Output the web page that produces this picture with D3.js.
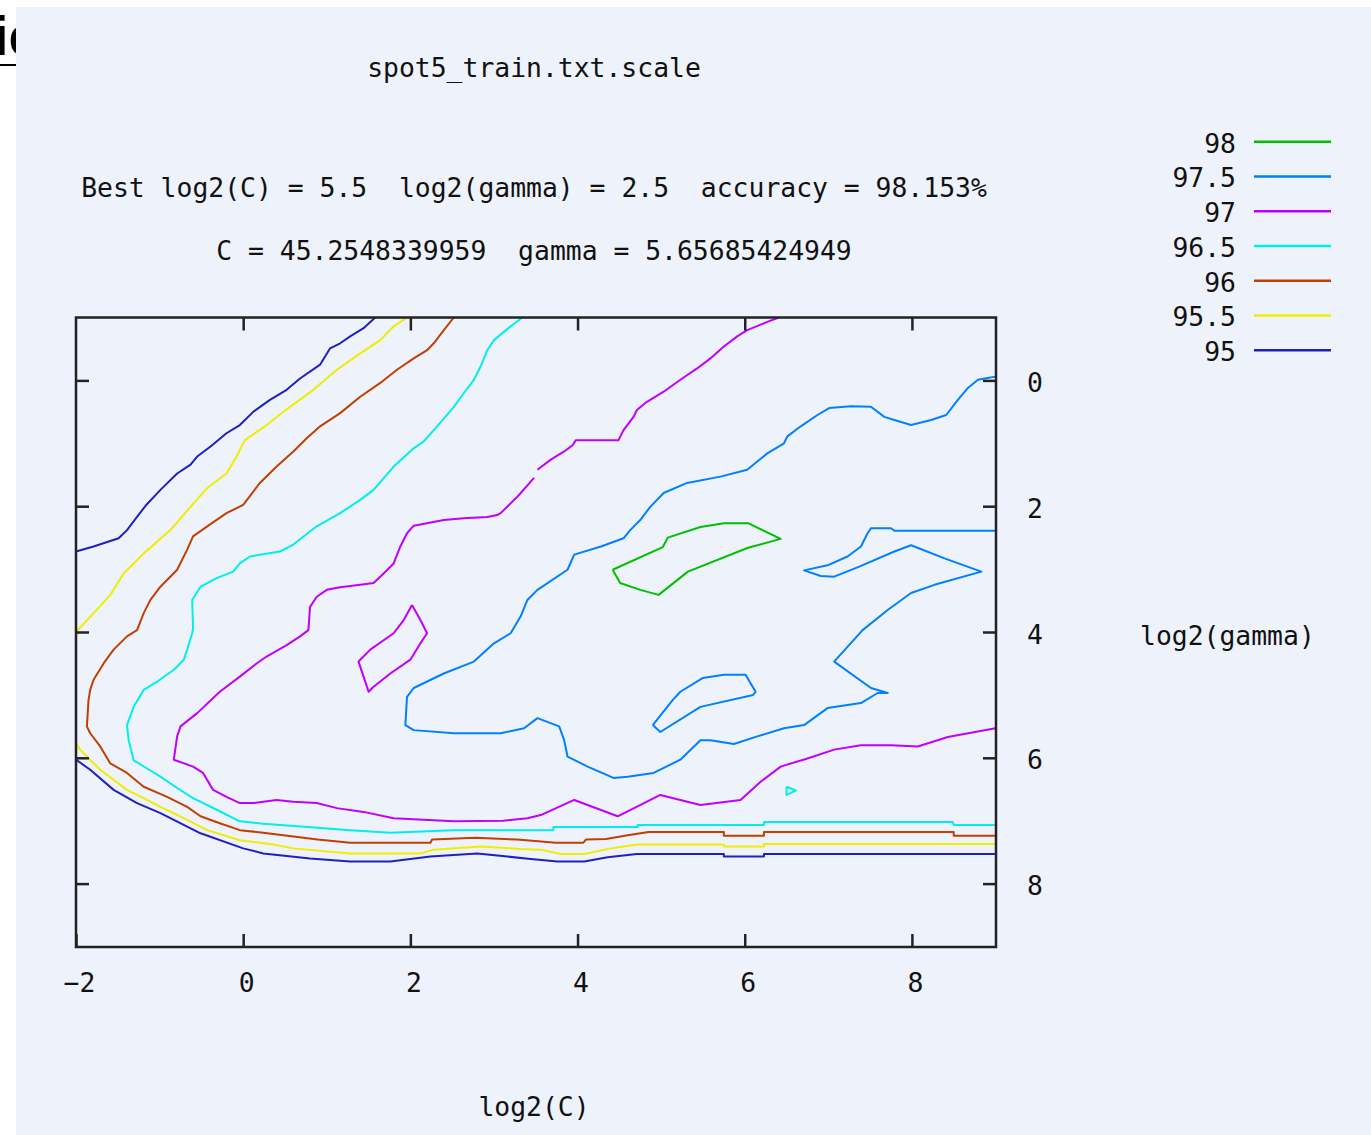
<!DOCTYPE html>
<meta charset="utf-8">
<html lang="en-us">
  <head>
    <script type="text/javascript" src="https://cdn.jsdelivr.net/npm/d3@7"></script>
    <style>
      body { margin: 0; background: #fff; }
      text { font-family: "DejaVu Sans Mono", monospace; font-size: 26.4px; fill: #111; white-space: pre; }
    </style>
  </head>
  <body>
  <div id="chart"></div>
  <script>
    // grid search contours, [log2(C), log2(gamma)] points
    const levels = ['98', '97.5', '97', '96.5', '96', '95.5', '95']
    const colors = ['#00c000', '#0080ff', '#c000ff', '#00eeee', '#c04000', '#eeee00', '#2020c0']
    const xTicks = [-2, 0, 2, 4, 6, 8]
    const yTicks = [0, 2, 4, 6, 8]

    const contour98 = [
      [[4.42,3.01],[4.51,3.22],[4.75,3.33],[4.97,3.41],[5.32,3.04],[6.04,2.66],[6.43,2.52],[6.04,2.27],[5.75,2.27],[5.47,2.33],[5.08,2.50],[5.02,2.65],[4.42,3.01]]
    ]
    const contour975 = [
      [[9,2.39],[7.79,2.39],[7.75,2.35],[7.51,2.35],[7.47,2.43],[7.39,2.64],[7.23,2.80],[6.99,2.94],[6.71,3.02],[6.91,3.11],[7.07,3.12],[7.37,2.96],[7.79,2.72],[7.99,2.62],[8.39,2.83],[8.83,3.04],[8.27,3.25],[7.99,3.38],[7.71,3.65],[7.41,3.97],[7.07,4.47],[7.51,4.89],[7.71,4.97],[7.59,4.97],[7.39,5.13],[6.99,5.21],[6.71,5.48],[6.47,5.53],[6.15,5.66],[5.87,5.78],[5.59,5.72],[5.47,5.72],[5.23,6.03],[4.91,6.24],[4.60,6.30],[4.43,6.32],[4.12,6.14],[3.88,5.98],[3.84,5.72],[3.78,5.50],[3.52,5.37],[3.36,5.53],[3.08,5.61],[2.52,5.61],[2.04,5.56],[1.94,5.48],[1.96,5.03],[2.04,4.89],[2.40,4.66],[2.76,4.47],[3.00,4.18],[3.20,4.02],[3.32,3.75],[3.40,3.49],[3.52,3.33],[3.88,3.01],[3.96,2.77],[4.28,2.64],[4.55,2.51],[4.63,2.38],[4.75,2.22],[4.87,2.01],[5.03,1.79],[5.31,1.63],[5.71,1.53],[6.03,1.42],[6.27,1.16],[6.47,1.00],[6.51,0.89],[6.67,0.73],[6.87,0.55],[7.01,0.44],[7.27,0.41],[7.51,0.42],[7.67,0.58],[7.79,0.63],[7.99,0.71],[8.23,0.63],[8.41,0.55],[8.55,0.31],[8.67,0.12],[8.79,-0.01],[8.87,-0.03],[9,-0.06]],
      [[4.90,5.48],[4.99,5.59],[5.47,5.19],[6.10,5.00],[6.13,4.95],[6.01,4.68],[5.75,4.68],[5.50,4.73],[5.23,4.95],[5.14,5.08],[4.90,5.48]]
    ]
    const contour97 = [
      [[6.41,-1],[6.27,-0.93],[6.03,-0.80],[5.91,-0.70],[5.75,-0.54],[5.59,-0.35],[5.43,-0.19],[5.23,-0.01],[5.03,0.18],[4.83,0.34],[4.71,0.47],[4.67,0.58],[4.55,0.79],[4.49,0.95],[3.98,0.95],[3.94,1.03],[3.84,1.13],[3.68,1.26],[3.52,1.42]],
      [[3.48,1.55],[3.28,1.85],[3.08,2.11],[3.04,2.14],[2.92,2.17],[2.64,2.19],[2.40,2.22],[2.04,2.31],[1.96,2.43],[1.88,2.64],[1.80,2.91],[1.68,3.07],[1.56,3.22],[1.40,3.25],[1.16,3.29],[1.00,3.33],[0.88,3.44],[0.80,3.60],[0.78,3.97],[0.68,4.07],[0.52,4.21],[0.28,4.39],[0.16,4.50],[-0.04,4.71],[-0.28,4.95],[-0.55,5.29],[-0.75,5.50],[-0.79,5.66],[-0.83,6.03],[-0.60,6.14],[-0.48,6.24],[-0.36,6.51],[-0.20,6.62],[-0.04,6.72],[0.12,6.72],[0.40,6.67],[0.60,6.70],[0.88,6.72],[1.12,6.80],[1.44,6.86],[1.80,6.96],[2.52,7.01],[3.11,7.00],[3.40,6.96],[3.56,6.91],[3.96,6.67],[4.48,6.93],[4.99,6.59],[5.47,6.75],[5.95,6.67],[6.19,6.38],[6.43,6.14],[6.75,6.01],[7.07,5.87],[7.39,5.80],[7.75,5.80],[8.07,5.82],[8.43,5.67],[9,5.53]],
      [[2.02,3.57],[2.12,3.81],[2.20,4.02],[2.12,4.18],[2.00,4.44],[1.76,4.66],[1.56,4.87],[1.50,4.95],[1.44,4.71],[1.38,4.47],[1.52,4.28],[1.80,4.02],[1.92,3.81],[2.02,3.57]]
    ]
    const contour965 = [
      [[3.34,-1],[3.20,-0.86],[3.00,-0.64],[2.92,-0.48],[2.84,-0.22],[2.76,-0.01],[2.64,0.20],[2.52,0.42],[2.32,0.73],[2.16,0.97],[2.04,1.08],[1.80,1.37],[1.56,1.74],[1.40,1.90],[1.16,2.11],[0.88,2.32],[0.60,2.61],[0.44,2.72],[0.08,2.80],[-0.04,2.91],[-0.12,3.04],[-0.31,3.14],[-0.51,3.28],[-0.61,3.49],[-0.60,3.94],[-0.61,4.02],[-0.67,4.28],[-0.71,4.44],[-0.83,4.60],[-1.03,4.79],[-1.19,4.92],[-1.31,5.19],[-1.39,5.48],[-1.37,5.72],[-1.31,6.04],[-1.15,6.17],[-0.99,6.30],[-0.79,6.48],[-0.60,6.64],[-0.31,6.83],[-0.04,7.01],[0.24,7.05],[0.77,7.10],[1.28,7.15],[1.76,7.19],[2.51,7.15],[3.71,7.15],[3.71,7.10],[4.72,7.10],[4.72,7.07],[6.23,7.07],[6.23,7.02],[8.49,7.02],[8.50,7.07],[9,7.07]],
      [[6.50,6.46],[6.61,6.52],[6.50,6.59],[6.50,6.46]]
    ]
    const contour96 = [
      [[2.52,-1],[2.40,-0.80],[2.28,-0.59],[2.20,-0.48],[2.04,-0.35],[1.84,-0.17],[1.64,0.04],[1.40,0.26],[1.16,0.52],[0.92,0.73],[0.76,0.92],[0.60,1.13],[0.40,1.37],[0.20,1.63],[0.00,1.98],[-0.20,2.11],[-0.43,2.32],[-0.60,2.48],[-0.67,2.69],[-0.79,3.01],[-0.99,3.28],[-1.11,3.49],[-1.19,3.70],[-1.27,3.97],[-1.39,4.07],[-1.55,4.28],[-1.67,4.50],[-1.79,4.76],[-1.83,4.92],[-1.85,5.08],[-1.87,5.50],[-1.83,5.61],[-1.71,5.82],[-1.59,6.09],[-1.39,6.24],[-1.19,6.46],[-0.91,6.62],[-0.67,6.78],[-0.51,6.93],[-0.28,7.04],[-0.04,7.15],[0.24,7.19],[0.65,7.26],[0.89,7.30],[1.28,7.35],[2.24,7.35],[2.26,7.30],[2.78,7.27],[3.28,7.30],[3.74,7.35],[4.07,7.35],[4.10,7.30],[4.34,7.29],[4.60,7.23],[4.85,7.18],[5.75,7.18],[5.75,7.24],[6.23,7.24],[6.23,7.18],[8.50,7.18],[8.50,7.24],[9,7.24]]
    ]
    const contour955 = [
      [[-2,4.00],[-1.83,3.76],[-1.59,3.41],[-1.43,3.07],[-1.19,2.75],[-0.87,2.38],[-0.63,2.01],[-0.43,1.71],[-0.20,1.48],[-0.08,1.21],[0.02,0.95],[0.28,0.71],[0.56,0.42],[0.84,0.15],[1.12,-0.17],[1.40,-0.43],[1.64,-0.64],[1.80,-0.86],[1.96,-1]],
      [[-2,5.77],[-1.95,5.87],[-1.87,5.98],[-1.71,6.19],[-1.39,6.51],[-1.19,6.64],[-0.99,6.78],[-0.71,6.96],[-0.43,7.15],[-0.04,7.31],[0.36,7.38],[0.60,7.44],[1.28,7.52],[2.12,7.52],[2.28,7.46],[2.84,7.41],[3.32,7.45],[3.56,7.46],[3.80,7.53],[4.08,7.53],[4.40,7.44],[4.71,7.38],[5.75,7.38],[5.75,7.41],[6.23,7.41],[6.23,7.37],[9,7.37]]
    ]
    const contour95 = [
      [[-2,2.72],[-1.79,2.64],[-1.49,2.51],[-1.39,2.38],[-1.27,2.17],[-1.16,1.98],[-0.99,1.74],[-0.79,1.48],[-0.63,1.34],[-0.55,1.21],[-0.39,1.05],[-0.20,0.84],[-0.04,0.71],[0.12,0.50],[0.32,0.31],[0.52,0.15],[0.68,-0.03],[0.92,-0.25],[1.04,-0.51],[1.16,-0.59],[1.28,-0.70],[1.44,-0.83],[1.58,-1]],
      [[-2,6.03],[-1.83,6.19],[-1.55,6.51],[-1.27,6.72],[-0.99,6.88],[-0.51,7.20],[0.00,7.44],[0.24,7.52],[0.80,7.60],[1.28,7.65],[1.76,7.65],[2.24,7.57],[2.80,7.52],[3.16,7.57],[3.44,7.61],[3.76,7.65],[4.08,7.65],[4.36,7.58],[4.71,7.53],[5.75,7.53],[5.75,7.57],[6.23,7.57],[6.23,7.53],[9,7.53]]
    ]

    const contours = [contour98, contour975, contour97, contour965, contour96, contour955, contour95]

    const titleLines = [
      'spot5_train.txt.scale',
      'Best log2(C) = 5.5  log2(gamma) = 2.5  accuracy = 98.153%',
      'C = 45.2548339959  gamma = 5.65685424949'
    ]

    const svg = d3.select('#chart').append('svg')
      .attr('width', 1371).attr('height', 1135)

    // the page heading peeking out behind the image
    svg.append('text').attr('x', -7).attr('y', 55)
      .style('font-family', '"Liberation Sans", Arial, sans-serif')
      .style('font-weight', 'bold').style('font-size', '56px').style('fill', '#000')
      .text('ie')
    svg.append('line').attr('x1', 0).attr('x2', 16).attr('y1', 65).attr('y2', 65)
      .attr('stroke', '#000').attr('stroke-width', 2)

    svg.append('rect').attr('x', 16).attr('y', 7)
      .attr('width', 1355).attr('height', 1128).attr('fill', '#eef2fb')

    const x = d3.scaleLinear().domain([-2, 9]).range([76, 995.5])
    const y = d3.scaleLinear().domain([-1, 9]).range([317.5, 946.5])

    svg.selectAll('.title').data(titleLines).enter()
      .append('text').attr('class', 'title')
      .attr('xml:space', 'preserve')
      .attr('text-anchor', 'middle').attr('x', 534)
      .attr('y', (d, i) => [77, 197, 260][i])
      .text(d => d)

    // contour lines
    const line = d3.line().x(d => x(d[0])).y(d => y(d[1]))
    contours.forEach(function(segs, i) {
      svg.append('g').selectAll('path').data(segs).enter()
        .append('path').attr('d', line)
        .attr('fill', 'none').attr('stroke', colors[i])
        .attr('stroke-width', 2).attr('stroke-linejoin', 'round')
    })

    // axes, ticks pointing into the box
    const tickStyle = g => {
      g.select('.domain').remove()
      g.selectAll('.tick line').attr('stroke', '#222').attr('stroke-width', 2.5)
    }
    svg.append('g').attr('transform', 'translate(0,947)')
      .call(d3.axisBottom(x).tickValues(xTicks).tickSizeInner(-13).tickSizeOuter(0).tickPadding(26.5))
      .call(tickStyle)
      .call(g => g.selectAll('text').attr('dx', 3).style('font-size', '26.4px')
        .style('font-family', '"DejaVu Sans Mono", monospace').attr('fill', '#111'))
    svg.append('g').attr('transform', 'translate(0,317.5)')
      .call(d3.axisTop(x).tickValues(xTicks.slice(1)).tickSizeInner(-13).tickSizeOuter(0).tickFormat(''))
      .call(tickStyle)
    svg.append('g').attr('transform', 'translate(76,0)')
      .call(d3.axisLeft(y).tickValues(yTicks).tickSizeInner(-13).tickSizeOuter(0).tickFormat(''))
      .call(tickStyle)
    svg.append('g').attr('transform', 'translate(996,0)')
      .call(d3.axisRight(y).tickValues(yTicks).tickSizeInner(-13).tickSizeOuter(0).tickPadding(31))
      .call(tickStyle)
      .call(g => g.selectAll('text').attr('dy', '0.42em').style('font-size', '26.4px')
        .style('font-family', '"DejaVu Sans Mono", monospace').attr('fill', '#111'))

    svg.append('rect').attr('x', 76).attr('y', 317.5)
      .attr('width', 920).attr('height', 629.5)
      .attr('fill', 'none').attr('stroke', '#222').attr('stroke-width', 2.5)

    svg.append('text').attr('x', 534).attr('y', 1116).attr('text-anchor', 'middle').text('log2(C)')
    svg.append('text').attr('x', 1140).attr('y', 645).text('log2(gamma)')

    // legend
    const legend = svg.append('g').selectAll('g').data(levels).enter()
      .append('g').attr('transform', (d, i) => `translate(0,${141.7 + i * 34.75})`)
    legend.append('text').attr('x', 1236).attr('y', 11).attr('text-anchor', 'end').text(d => d)
    legend.append('line').attr('x1', 1254).attr('x2', 1331)
      .attr('stroke', (d, i) => colors[i]).attr('stroke-width', 2.5)
  </script>
  </body>
</html>
